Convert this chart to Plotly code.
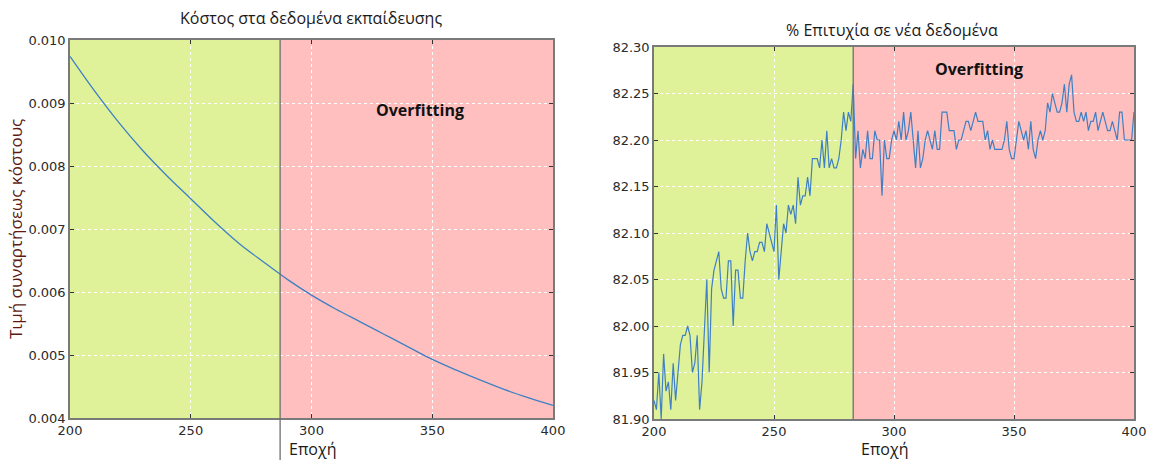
import plotly.graph_objects as go

# Training cost, sampled every 10 epochs
cost_epochs = [200, 210, 220, 230, 240, 250, 260, 270, 280, 290, 300,
               310, 320, 330, 340, 350, 360, 370, 380, 390, 400]
cost_values = [0.00974, 0.00920, 0.00870, 0.00825, 0.00785, 0.00748, 0.00711,
               0.00677, 0.00648, 0.00620, 0.00595, 0.00573, 0.00553, 0.00533,
               0.00513, 0.00493, 0.00476, 0.00460, 0.00445, 0.00432, 0.00420]

# Test accuracy (%) per epoch, 200..400
acc_epochs = list(range(200, 401))
acc_values = [
    81.92, 81.91, 81.95, 81.90, 81.97, 81.93, 81.94, 81.91, 81.96, 81.92,  # 200-209
    81.95, 81.98, 81.99, 81.99, 82.00, 81.99, 81.95, 81.96, 81.99, 81.91,  # 210-219
    81.94, 81.99, 82.05, 81.95, 82.04, 82.06, 82.07, 82.08, 82.04, 82.03,  # 220-229
    82.03, 82.07, 82.07, 82.00, 82.06, 82.06, 82.03, 82.03, 82.07, 82.10,  # 230-239
    82.08, 82.07, 82.08, 82.08, 82.09, 82.09, 82.08, 82.11, 82.10, 82.09,  # 240-249
    82.08, 82.13, 82.05, 82.08, 82.11, 82.10, 82.13, 82.12, 82.13, 82.11,  # 250-259
    82.16, 82.13, 82.14, 82.14, 82.16, 82.14, 82.18, 82.18, 82.18, 82.17,  # 260-269
    82.20, 82.17, 82.21, 82.17, 82.18, 82.17, 82.17, 82.18, 82.20, 82.23,  # 270-279
    82.21, 82.23, 82.22, 82.26, 82.18, 82.21, 82.17, 82.19, 82.18, 82.21,  # 280-289
    82.18, 82.18, 82.21, 82.20, 82.20, 82.14, 82.20, 82.18, 82.18, 82.20,  # 290-299
    82.21, 82.20, 82.22, 82.20, 82.23, 82.20, 82.21, 82.23, 82.20, 82.17,  # 300-309
    82.21, 82.17, 82.18, 82.20, 82.21, 82.20, 82.19, 82.21, 82.19, 82.19,  # 310-319
    82.23, 82.23, 82.23, 82.21, 82.21, 82.21, 82.19, 82.20, 82.20, 82.21,  # 320-329
    82.22, 82.22, 82.21, 82.22, 82.23, 82.22, 82.22, 82.22, 82.20, 82.21,  # 330-339
    82.19, 82.20, 82.19, 82.19, 82.19, 82.19, 82.20, 82.22, 82.19, 82.18,  # 340-349
    82.18, 82.20, 82.22, 82.21, 82.20, 82.21, 82.19, 82.22, 82.19, 82.18,  # 350-359
    82.20, 82.21, 82.20, 82.21, 82.24, 82.23, 82.25, 82.24, 82.23, 82.23,  # 360-369
    82.24, 82.26, 82.23, 82.26, 82.27, 82.23, 82.22, 82.22, 82.23, 82.22,  # 370-379
    82.23, 82.21, 82.22, 82.22, 82.23, 82.21, 82.22, 82.23, 82.22, 82.21,  # 380-389
    82.21, 82.22, 82.21, 82.20, 82.23, 82.23, 82.20, 82.20, 82.20, 82.20,  # 390-399
    82.23,                                                                 # 400
]

cost_ticks = [0.004, 0.005, 0.006, 0.007, 0.008, 0.009, 0.010]
cost_ticktext = ["0.004", "0.005", "0.006", "0.007", "0.008", "0.009", "0.010"]
acc_ticks = [81.90, 81.95, 82.00, 82.05, 82.10, 82.15, 82.20, 82.25, 82.30]
acc_ticktext = ["81.90", "81.95", "82.00", "82.05", "82.10", "82.15", "82.20", "82.25", "82.30"]
epoch_ticks = [200, 250, 300, 350, 400]

cost_split = 287   # start of overfitting, cost panel
acc_split = 283    # start of overfitting, accuracy panel

W, H = 1153, 460
GREEN = "#dff29a"
PINK = "#ffbfbf"
LINE = "#3f80c4"
FRAME = "#7a7a7a"
TICK_FONT = dict(family="DejaVu Sans", size=13, color="#2a2a2a")
TEXT_FONT = "Open Sans"

# panel boxes in pixels: (left, right, top, bottom)
L_BOX = (70, 553, 40, 418)
R_BOX = (654, 1134, 47, 419)


def xdom(b):
    return [b[0] / W, b[1] / W]


def ydom(b):
    return [(H - b[3]) / H, (H - b[2]) / H]


def px(x):
    return x / W


def py(y):
    return (H - y) / H


fig = go.Figure()

fig.add_trace(go.Scatter(x=cost_epochs, y=cost_values, mode="lines",
                         line=dict(color=LINE, width=1.3, shape="spline"),
                         xaxis="x", yaxis="y", showlegend=False))
fig.add_trace(go.Scatter(x=acc_epochs, y=acc_values, mode="lines",
                         line=dict(color=LINE, width=1.2),
                         xaxis="x2", yaxis="y2", showlegend=False))

axis_common = dict(showline=True, linecolor=FRAME, linewidth=1.5, mirror="ticks",
                   ticks="inside", ticklen=4, tickcolor="#333333",
                   showgrid=True, gridcolor="white", griddash="dot", gridwidth=1,
                   zeroline=False, tickfont=TICK_FONT, fixedrange=True,
                   automargin=False)

fig.update_layout(
    width=W, height=H,
    margin=dict(l=0, r=0, t=0, b=0, autoexpand=False),
    paper_bgcolor="white", plot_bgcolor=GREEN,
    xaxis=dict(domain=xdom(L_BOX), range=[200, 400], tickvals=epoch_ticks,
               anchor="y", **axis_common),
    yaxis=dict(domain=ydom(L_BOX), range=[0.004, 0.010], tickvals=cost_ticks,
               ticktext=cost_ticktext, anchor="x", **axis_common),
    xaxis2=dict(domain=xdom(R_BOX), range=[200, 400], tickvals=epoch_ticks,
                anchor="y2", **axis_common),
    yaxis2=dict(domain=ydom(R_BOX), range=[81.90, 82.30], tickvals=acc_ticks,
                ticktext=acc_ticktext, anchor="x2", **axis_common),
)

shapes = [
    # training / overfitting regions
    dict(type="rect", xref="x", yref="y domain", x0=200, x1=cost_split, y0=0, y1=1,
         fillcolor=GREEN, line_width=0, layer="below"),
    dict(type="rect", xref="x", yref="y domain", x0=cost_split, x1=400, y0=0, y1=1,
         fillcolor=PINK, line_width=0, layer="below"),
    dict(type="rect", xref="x2", yref="y2 domain", x0=200, x1=acc_split, y0=0, y1=1,
         fillcolor=GREEN, line_width=0, layer="below"),
    dict(type="rect", xref="x2", yref="y2 domain", x0=acc_split, x1=400, y0=0, y1=1,
         fillcolor=PINK, line_width=0, layer="below"),
    # split markers
    dict(type="line", xref="x", yref="paper", x0=cost_split, x1=cost_split,
         y0=0, y1=ydom(L_BOX)[1], line=dict(color="#6e6e6e", width=1.3)),
    dict(type="line", xref="x2", yref="y2 domain", x0=acc_split, x1=acc_split,
         y0=0, y1=1, line=dict(color="#6e6e6e", width=1.3)),
]
fig.update_layout(shapes=shapes)


def label(text, x, y, size, color="#1a1a1a", angle=0):
    return dict(text=text, x=px(x), y=py(y), xref="paper", yref="paper",
                xanchor="center", yanchor="middle", showarrow=False,
                textangle=angle, font=dict(family=TEXT_FONT, size=size, color=color))


annotations = [
    label("Κόστος στα δεδομένα εκπαίδευσης", 311, 18, 16),
    label("% Επιτυχία σε νέα δεδομένα", 892, 30, 16),
    label("Τιμή συναρτήσεως κόστους", 15, 229, 17, color="#5c1a12", angle=-90),
    label("Εποχή", 312, 449, 16),
    label("Εποχή", 884, 449, 16),
    label("<b>Overfitting</b>", 420, 110, 16, color="#111111"),
    label("<b>Overfitting</b>", 979, 69, 16, color="#111111"),
]
fig.update_layout(annotations=annotations)

fig.write_html("out.html")
